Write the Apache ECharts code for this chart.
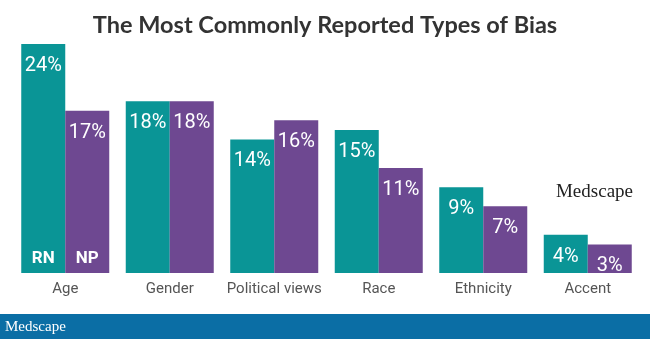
<!DOCTYPE html>
<html>
<head>
<meta charset="utf-8">
<script src="https://cdn.jsdelivr.net/npm/echarts@6/dist/echarts.min.js"></script>
<style>
html,body{margin:0;padding:0;background:#fff;}
#c{width:650px;height:339px;}
</style>
</head>
<body>
<div id="c"></div>
<script>
const categories = ['Age', 'Gender', 'Political views', 'Race', 'Ethnicity', 'Accent'];
const rnValues = [24, 18, 14, 15, 9, 4];
const npValues = [17, 18, 16, 11, 7, 3];
const seriesNames = ['RN', 'NP'];
const titleText = 'The Most Commonly Reported Types of Bias';

const TEAL = '#0a9596';
const PURPLE = '#6e4891';

const chart = echarts.init(document.getElementById('c'), null, {renderer: 'canvas'});

const valueLabel = {
  show: true,
  position: 'insideTop',
  distance: 12,
  color: '#fff',
  fontFamily: 'Roboto',
  fontSize: 20,
  formatter: p => p.value + '%'
};
const keyLabel = {
  show: true,
  position: 'insideBottom',
  distance: 6,
  color: '#fff',
  fontFamily: 'Roboto',
  fontWeight: 'bold',
  fontSize: 17,
  formatter: p => p.seriesName
};

const onlyFirst = arr => arr.map((v, i) => i === 0 ? v : '-');

chart.setOption({
  animation: false,
  backgroundColor: '#fff',
  title: {
    text: titleText,
    left: 'center',
    top: 8,
    textStyle: {fontFamily: 'Lato', fontWeight: 'bold', fontSize: 23.5, color: '#333'}
  },
  grid: {left: 13, right: 10, top: 44, bottom: 66},
  xAxis: [
    {
      type: 'category', data: categories,
      axisLine: {show: false}, axisTick: {show: false}, splitLine: {show: false},
      axisLabel: {color: '#555', fontFamily: 'Roboto', fontSize: 15, margin: 9, interval: 0}
    },
    {
      type: 'category', data: categories, show: false
    }
  ],
  yAxis: {type: 'value', min: 0, max: 24, show: false, splitLine: {show: false}},
  series: [
    {name: seriesNames[0], type: 'bar', data: rnValues, barWidth: 44, barGap: '0%',
     itemStyle: {color: TEAL}, label: valueLabel},
    {name: seriesNames[1], type: 'bar', data: npValues, barWidth: 44, barGap: '0%',
     itemStyle: {color: PURPLE}, label: valueLabel},
    {name: seriesNames[0], type: 'bar', xAxisIndex: 1, data: onlyFirst(rnValues), barWidth: 44, barGap: '0%',
     itemStyle: {color: 'rgba(0,0,0,0)'}, label: keyLabel, silent: true},
    {name: seriesNames[1], type: 'bar', xAxisIndex: 1, data: onlyFirst(npValues), barWidth: 44, barGap: '0%',
     itemStyle: {color: 'rgba(0,0,0,0)'}, label: keyLabel, silent: true}
  ],
  graphic: [
    {type: 'text', right: 17, top: 183,
     style: {text: 'Medscape', fontFamily: 'Liberation Serif', fontSize: 19, fill: '#222'}},
    {type: 'rect', left: 0, bottom: 0, shape: {width: 650, height: 25},
     style: {fill: '#0b6ea5'}},
    {type: 'text', left: 5, bottom: 4,
     style: {text: 'Medscape', fontFamily: 'Liberation Serif', fontSize: 15, fill: '#fff'}}
  ]
});
</script>
</body>
</html>
